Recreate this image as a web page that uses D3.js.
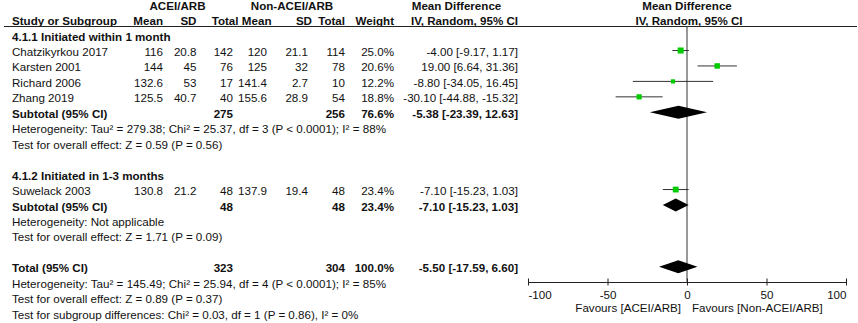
<html>
<head>
  <style>
    body { margin: 0; background: white; }
    svg { font-family: "Liberation Sans", Arial, Helvetica, sans-serif; }
  </style>
</head>
<body>
  <svg id="forest"></svg>
  <script src="https://cdn.jsdelivr.net/npm/d3@7"></script>
  <script>
    // study level data
    var studies = ["Chatzikyrkou 2017", "Karsten 2001", "Richard 2006", "Zhang 2019", "Suwelack 2003"];
    var studyGroup = [0, 0, 0, 0, 1];
    var meanA = [116, 144, 132.6, 125.5, 130.8];
    var sdA = [20.8, 45, 53, 40.7, 21.2];
    var totalA = [142, 76, 17, 40, 48];
    var meanB = [120, 125, 141.4, 155.6, 137.9];
    var sdB = [21.1, 32, 2.7, 28.9, 19.4];
    var totalB = [114, 78, 10, 54, 48];
    var weight = [25.0, 20.6, 12.2, 18.8, 23.4];
    var md = [-4.00, 19.00, -8.80, -30.10, -7.10];
    var ciLo = [-9.17, 6.64, -34.05, -44.88, -15.23];
    var ciHi = [1.17, 31.36, 16.45, -15.32, 1.03];

    // subgroups
    var groupNames = ["4.1.1 Initiated within 1 month", "4.1.2 Initiated in 1-3 months"];
    var subTotalA = [275, 48];
    var subTotalB = [256, 48];
    var subWeight = [76.6, 23.4];
    var subMd = [-5.38, -7.10];
    var subLo = [-23.39, -15.23];
    var subHi = [12.63, 1.03];
    var subHet = ["Heterogeneity: Tau\u00b2 = 279.38; Chi\u00b2 = 25.37, df = 3 (P < 0.0001); I\u00b2 = 88%",
                  "Heterogeneity: Not applicable"];
    var subTest = ["Test for overall effect: Z = 0.59 (P = 0.56)",
                   "Test for overall effect: Z = 1.71 (P = 0.09)"];

    // overall
    var overallTotals = [323, 304];
    var overallWeight = 100.0;
    var overallEst = [-5.50, -17.59, 6.60];
    var overallNotes = ["Heterogeneity: Tau\u00b2 = 145.49; Chi\u00b2 = 25.94, df = 4 (P < 0.0001); I\u00b2 = 85%",
                        "Test for overall effect: Z = 0.89 (P = 0.37)",
                        "Test for subgroup differences: Chi\u00b2 = 0.03, df = 1 (P = 0.86), I\u00b2 = 0%"];

    var axisTicks = [-100, -50, 0, 50, 100];
    var favours = ["Favours [ACEI/ARB]", "Favours [Non-ACEI/ARB]"];

    var width = 858, height = 323;
    var svg = d3.select("#forest").attr("width", width).attr("height", height);

    var fs = 11.6;
    // row index -> text baseline
    var rowY = d3.scaleLinear().domain([0, 1]).range([56, 71.45]);
    var x = d3.scaleLinear().domain([-100, 100]).range([528, 846]);
    var boxSize = d3.scaleSqrt().domain([0, 25]).range([0, 6]);

    // column anchors
    var col = { name: 12, meanA: 163, sdA: 196.5, nA: 233, meanB: 267, sdB: 308, nB: 345, w: 394, ci: 518 };

    function txt(xp, row, s, anchor, bold) {
      var t = svg.append("text")
        .attr("x", xp).attr("y", rowY(row))
        .attr("text-anchor", anchor || "start")
        .attr("font-size", fs + "px")
        .attr("font-weight", bold ? "bold" : "normal")
        .attr("fill", "#111")
        .text(s);
      return t;
    }
    // the Tau/Chi lines run wider in the original
    function note(row, s) {
      var t = txt(col.name, row, s);
      if (s.indexOf("Tau") >= 0) t.attr("textLength", 374).attr("lengthAdjust", "spacing");
    }
    function ciText(m, l, h) {
      return m.toFixed(2) + " [" + l.toFixed(2) + ", " + h.toFixed(2) + "]";
    }

    // headers
    txt(177.5, -3, "ACEI/ARB", "middle", true);
    txt(292, -3, "Non-ACEI/ARB", "middle", true);
    txt(456.5, -3, "Mean Difference", "middle", true);
    txt(687, -3, "Mean Difference", "middle", true);
    txt(col.name, -2, "Study or Subgroup", "start", true);
    txt(163, -2, "Mean", "end", true);
    txt(196.5, -2, "SD", "end", true);
    txt(238.5, -2, "Total", "end", true);
    txt(271.5, -2, "Mean", "end", true);
    txt(312, -2, "SD", "end", true);
    txt(345, -2, "Total", "end", true);
    txt(394, -2, "Weight", "end", true);
    txt(464.5, -2, "IV, Random, 95% CI", "middle", true);
    txt(689, -2, "IV, Random, 95% CI", "middle", true);

    svg.append("line")
      .attr("x1", 4).attr("x2", 857)
      .attr("y1", 26.5).attr("y2", 26.5)
      .attr("stroke", "#222").attr("stroke-width", 1);

    // zero line
    svg.append("line")
      .attr("x1", x(0)).attr("x2", x(0))
      .attr("y1", 26.5).attr("y2", 282)
      .attr("stroke", "#555").attr("stroke-width", 1.2);

    function diamond(row, m, l, h) {
      var cy = rowY(row) - 5.5, hh = 6.5;
      svg.append("polygon")
        .attr("points", [[x(l), cy], [x(m), cy - hh], [x(h), cy], [x(m), cy + hh]].map(function(p){ return p.join(","); }).join(" "))
        .attr("fill", "black");
    }

    var row = -1;
    groupNames.forEach(function(g, gi) {
      txt(col.name, row, g, "start", true);
      row++;
      studies.forEach(function(s, i) {
        if (studyGroup[i] !== gi) return;
        txt(col.name, row, s);
        txt(col.meanA, row, String(meanA[i]), "end");
        txt(col.sdA, row, String(sdA[i]), "end");
        txt(col.nA, row, String(totalA[i]), "end");
        txt(col.meanB, row, String(meanB[i]), "end");
        txt(col.sdB, row, String(sdB[i]), "end");
        txt(col.nB, row, String(totalB[i]), "end");
        txt(col.w, row, weight[i].toFixed(1) + "%", "end");
        txt(col.ci, row, ciText(md[i], ciLo[i], ciHi[i]), "end");
        var cy = rowY(row) - 5.5;
        svg.append("line")
          .attr("x1", x(ciLo[i])).attr("x2", x(ciHi[i]))
          .attr("y1", cy).attr("y2", cy)
          .attr("stroke", "#333").attr("stroke-width", 1);
        var b = boxSize(weight[i]);
        svg.append("rect")
          .attr("x", x(md[i]) - b / 2).attr("y", cy - b / 2)
          .attr("width", b).attr("height", b)
          .attr("fill", "#00cc00");
        row++;
      });
      txt(col.name, row, "Subtotal (95% CI)", "start", true);
      txt(col.nA, row, String(subTotalA[gi]), "end", true);
      txt(col.nB, row, String(subTotalB[gi]), "end", true);
      txt(col.w, row, subWeight[gi].toFixed(1) + "%", "end", true);
      txt(col.ci, row, ciText(subMd[gi], subLo[gi], subHi[gi]), "end", true);
      diamond(row, subMd[gi], subLo[gi], subHi[gi]);
      row++;
      note(row, subHet[gi]);
      row++;
      note(row, subTest[gi]);
      row += 2;
    });

    txt(col.name, row, "Total (95% CI)", "start", true);
    txt(col.nA, row, String(overallTotals[0]), "end", true);
    txt(col.nB, row, String(overallTotals[1]), "end", true);
    txt(col.w, row, overallWeight.toFixed(1) + "%", "end", true);
    txt(col.ci, row, ciText(overallEst[0], overallEst[1], overallEst[2]), "end", true);
    diamond(row, overallEst[0], overallEst[1], overallEst[2]);
    row++;
    overallNotes.forEach(function(n) { note(row, n); row++; });

    // axis
    var axis = d3.axisBottom(x).tickValues(axisTicks).tickSize(3.5).tickSizeOuter(0).tickFormat(d3.format("d"));
    var ax = svg.append("g").attr("transform", "translate(0,282)").call(axis);
    ax.select(".domain").attr("stroke", "#222");
    ax.selectAll(".tick line").attr("stroke", "#222").attr("y1", -3.5).attr("y2", 3.5);
    ax.selectAll(".tick text")
      .attr("font-size", fs + "px").attr("font-family", null).attr("fill", "#111")
      .attr("y", 9)
      .attr("text-anchor", function(d) { return d === -100 ? "start" : d === 100 ? "end" : "middle"; })
      .text(function(d) { return d < 0 ? "-" + Math.abs(d) : d; });
    svg.append("text").attr("x", x(0) - 6).attr("y", 312).attr("text-anchor", "end")
      .attr("font-size", fs + "px").attr("fill", "#111").text(favours[0]);
    svg.append("text").attr("x", x(0) + 5).attr("y", 312).attr("text-anchor", "start")
      .attr("font-size", fs + "px").attr("fill", "#111").text(favours[1]);
  </script>
</body>
</html>
